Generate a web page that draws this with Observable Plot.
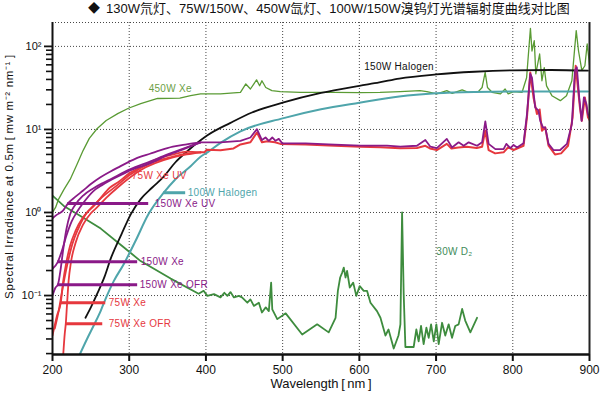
<!DOCTYPE html>
<html><head><meta charset="utf-8">
<script src="https://cdn.jsdelivr.net/npm/d3@7"></script>
<script src="https://cdn.jsdelivr.net/npm/@observablehq/plot@0.6"></script>
<style>
body{margin:0;background:#fff;}
#title{height:18px;width:600px;box-sizing:border-box;padding-left:88px;font-family:"Liberation Sans","Noto Sans CJK SC",sans-serif;font-size:13px;line-height:17px;color:#111;white-space:nowrap;}
#title .d{font-size:12px;margin-right:6px;}
</style></head><body>
<div id="title"></div>
<div id="chart"></div>
<script>
// ---- text ----
const titleMark = "◆";
const titleText = "130W氘灯、75W/150W、450W氙灯、100W/150W溴钨灯光谱辐射度曲线对比图";
const xLabel = "Wavelength\u2009[\u2009nm\u2009]";
const yLabel = "Spectral Irradiance at 0.5m\u2009[\u2009mw m⁻² nm⁻¹\u2009]";
const xTicks = [200, 300, 400, 500, 600, 700, 800, 900];
const yTicks = [0.1, 1, 10, 100];
const yTickLabels = ["10⁻¹", "10⁰", "10¹", "10²"];
const yMinorTicks = [0.02,0.03,0.04,0.05,0.06,0.07,0.08,0.09,0.2,0.3,0.4,0.5,0.6,0.7,0.8,0.9,2,3,4,5,6,7,8,9,20,30,40,50,60,70,80,90];
const xDomain = [200, 900];
const yDomain = [0.0195, 194];

// ---- series [wavelength nm, irradiance] ----
const halogen150 = [[243,0.054],[250,0.072],[258,0.104],[268,0.17],[276,0.28],[290,0.55],[302,0.95],[315,1.45],[330,2.0],[345,2.7],[360,4.0],[376,5.5],[393,7.4],[402,8.5],[432,12],[460,16],[500,21],[550,27.5],[600,33.5],[626,36.8],[652,41],[700,46],[750,49.5],[800,51.5],[850,52],[898,51]];
const halogen100 = [[235.5,0.0195],[245,0.03],[255,0.046],[263,0.066],[270,0.095],[280,0.15],[293,0.24],[308,0.45],[325,0.95],[345,1.73],[360,2.5],[380,3.6],[393,4.7],[402,5.3],[420,7.0],[445,9.5],[500,13.6],[550,17.5],[600,21],[652,25],[700,27.3],[750,28.3],[800,28.6],[898,28.6]];
const xe450 = [[200,1.0],[204,1.15],[208,1.45],[215,1.9],[223,2.5],[232,3.8],[240,5.6],[248,7.8],[258,10.2],[270,12.8],[285,15.5],[299,18],[315,20.5],[337,23.6],[366,23.8],[380,25.5],[393,26.8],[419,26.8],[445,27.9],[452,35.3],[458,30.7],[466,39.5],[470,33.6],[473,38.6],[478,32],[486,29.3],[497,28.5],[523,27.9],[566,27.9],[600,27.7],[627,27.9],[653,28.5],[679,29.3],[688,28.5],[701,26.8],[714,29.3],[721,27.2],[734,30],[742,27.9],[755,28.5],[760,32],[764,48.6],[767,32],[773,28],[784,26.8],[790,30.7],[794,26.8],[801,28.5],[812,27.9],[818,42],[823,165],[825,88],[828,117],[830,46.8],[835,81],[838,38.6],[841,55.6],[844,33.5],[851,25.5],[862,22.2],[870,25.5],[877,38.6],[882.7,155],[885.7,88],[890,51.4],[894,58.5],[897,107],[898.5,81],[900,60]];
const d2lamp30 = [[200,1.6],[214.7,1.2],[237,0.9],[262.9,0.64],[290,0.4],[314.9,0.26],[354,0.16],[390.5,0.105],[397,0.114],[401.8,0.099],[410.5,0.104],[419,0.095],[424,0.108],[428,0.099],[432,0.11],[436.5,0.095],[443,0.099],[447,0.095],[454,0.082],[458,0.09],[462.5,0.075],[469,0.082],[473,0.0625],[478,0.072],[482,0.065],[485,0.143],[486.5,0.068],[493,0.052],[504,0.061],[525.5,0.034],[545,0.045],[560,0.036],[569,0.054],[572,0.114],[575,0.165],[577.6,0.189],[579.7,0.217],[582,0.165],[584,0.198],[587.5,0.125],[592,0.143],[596,0.099],[600.5,0.13],[605.7,0.114],[610,0.114],[614.5,0.082],[623,0.065],[627.5,0.054],[634,0.033],[638,0.039],[644.8,0.023],[651,0.033],[653.5,0.045],[655.7,1.0],[657.8,0.104],[660,0.024],[670.8,0.024],[674.3,0.039],[677.3,0.028],[680.4,0.043],[683.8,0.026],[687.4,0.041],[690.4,0.031],[693.5,0.045],[697,0.028],[700.4,0.045],[703.4,0.026],[707.8,0.047],[712,0.033],[716.4,0.045],[720.8,0.031],[725,0.043],[729.4,0.045],[734,0.069],[738,0.05],[744.7,0.036],[753.4,0.054]];
// 150W Xe family, UV region
const xe150uv = [[200,0.85],[205,0.93],[214,1.06],[220,1.28],[230,1.55],[240,1.84],[250,2.2],[262,2.64],[275,3.1],[285,3.47],[305,4.3],[315,4.7],[327,5.1],[340,5.6],[357,6.2],[375,6.6],[393,6.97]];
const xe150 = [[200,0.21],[207,0.255],[212,0.34],[218,0.52],[225,0.78],[232,1.02],[240,1.3],[253,1.8],[265,2.15],[275,2.43],[290,2.85],[301,3.2],[327,3.9],[350,4.9],[375,6.0],[393,6.97]];
const xe150ofr = [[200,0.1],[204,0.125],[207,0.135],[210,0.19],[214,0.36],[218,0.62],[223,0.95],[230,1.25],[240,1.6],[253,1.95],[265,2.25],[275,2.5],[301,3.3],[327,4.1],[350,5.0],[375,6.1],[393,6.97]];
// 75W Xe family, UV region
const xe75uv = [[203,0.04],[208,0.065],[213,0.12],[219,0.23],[226,0.42],[234,0.65],[245,1.0],[254,1.2],[262,1.47],[275,2.0],[285,2.3],[301,3.0],[315,3.5],[336,4.4],[358,5.0],[375,5.4],[393,5.3]];
const xe75 = [[200,0.033],[206,0.058],[210.8,0.082],[214,0.15],[218,0.25],[223,0.4],[230,0.6],[240,0.88],[250,1.12],[262,1.45],[285,2.15],[301,2.85],[327,3.9],[357,4.7],[375,5.1],[393,5.3]];
const xe75ofr = [[214,0.0195],[216,0.035],[217.3,0.0456],[219,0.08],[221,0.15],[224,0.25],[230,0.43],[240,0.72],[250,0.98],[258,1.15],[270,1.5],[285,2.0],[314,3.2],[357,4.6],[375,5.0],[393,5.3]];
// visible bands (the 150W curves and the 75W curves coincide above ~390 nm)
const xe150vis = [[393,6.97],[419,6.97],[445,7.3],[458,8.0],[466.5,10.1],[473,7.45],[477.7,8.0],[482,7.3],[486.5,8.0],[490.7,7.3],[495,7.7],[499.5,6.8],[530,6.8],[560,6.6],[601,6.4],[636,6.4],[653.5,6.2],[675,6.36],[686,7.45],[692.6,6.2],[701,5.97],[714,7.7],[720.8,6.07],[729.4,7.0],[736,6.36],[742.5,7.0],[753.4,6.36],[760,7.0],[764.2,12.5],[768.5,6.7],[777.3,5.8],[788,5.8],[791.6,6.7],[796.8,5.97],[801,6.5],[805.5,6.07],[814,6.8],[818.5,15.3],[822.8,46.6],[825,42],[829.2,18.4],[833.5,16.8],[835.8,12.7],[839.3,10.6],[842.3,10.6],[846.6,6.7],[853,5.65],[861.8,5.65],[870.6,6.7],[877,11.6],[881,51],[883.5,56],[886.6,24.3],[889.7,12.7],[892.7,24.3],[896,20.2],[898,15.3],[900,14]];
const xe75vis = [[393,5.3],[398,5.3],[401,5.7],[419,5.6],[436,5.9],[445,6.6],[458,7.0],[466.5,9.2],[473,7.0],[480,7.2],[490,7.0],[497,6.7],[530,6.6],[560,6.4],[601,6.2],[627.5,6.1],[653,5.95],[675,5.97],[686,6.36],[692,5.9],[701,5.65],[714,6.7],[720,5.9],[729,6.07],[740,6.2],[753,5.97],[760,6.2],[764,9.66],[768.5,5.65],[777,5.15],[788,5.3],[794,6.1],[801,5.65],[814,6.36],[818.5,14],[822.8,48.5],[827,24.3],[831.5,15.3],[835,17.4],[838,9.66],[842.3,10.6],[846.6,6.36],[855,5.0],[863,5.15],[872,6.36],[878,14],[882,58.5],[887.5,18.4],[890,12.7],[894,24.3],[898,14],[900,13]];

// ---- annotations (data coordinates) ----
const labelNames = ["450W Xe","150W Halogen","75W Xe UV","100W Halogen","150W Xe UV","150W Xe","150W Xe OFR","75W Xe","75W Xe OFR","30W D₂"];
const labelX = [324, 605, 302, 374.9, 331.9, 313.7, 312.4, 272, 272, 699];
const labelY = [31, 56.9, 2.77, 1.73, 1.28, 0.255, 0.135, 0.0817, 0.0456, 0.339];
const leaderNames = ["100W Halogen","150W Xe UV","150W Xe","150W Xe OFR","75W Xe","75W Xe OFR"];
const leaderFrom = [345, 219.9, 206.9, 207, 210.8, 217.3];
const leaderTo = [373.6, 325.4, 311, 311, 269.4, 265.5];
const leaderY = [1.73, 1.28, 0.255, 0.135, 0.0817, 0.0456];

// ---- styles ----
const C = {purple:"#8a1a88", red:"#e6383e", green:"#5a9b34", d2:"#3e8c3e", black:"#111111", teal:"#4fa5ab"};
const labelColor = {"450W Xe":"#6b9e45","150W Halogen":"#111","75W Xe UV":"#e6383e","100W Halogen":"#4fa5ab","150W Xe UV":"#8a1a88","150W Xe":"#8a1a88","150W Xe OFR":"#8a1a88","75W Xe":"#e6383e","75W Xe OFR":"#e6383e","30W D₂":"#3e8c5a"};
const leaderColor = {"100W Halogen":C.teal,"150W Xe UV":C.purple,"150W Xe":C.purple,"150W Xe OFR":C.purple,"75W Xe":C.red,"75W Xe OFR":C.red};

document.getElementById("title").innerHTML = `<span class="d">${titleMark}</span>${titleText}`;

const labels = labelNames.map((n, i) => ({name: n, x: labelX[i], y: labelY[i]}));
const leaders = leaderNames.map((n, i) => ({name: n, x1: leaderFrom[i], x2: leaderTo[i], y: leaderY[i]}));
const X = d => d[0], Y = d => d[1];
const ln = (data, stroke, w, curve) => Plot.line(data, {x: X, y: Y, stroke, strokeWidth: w, curve: curve || "linear", clip: true});
const grid = {stroke: "#333", strokeOpacity: 0.9, strokeWidth: 1, strokeDasharray: "1,2"};

const chart = Plot.plot({
  width: 600, height: 378,
  marginLeft: 52, marginRight: 11, marginTop: 4, marginBottom: 42,
  style: {fontFamily: "'Liberation Sans', Arial, sans-serif", background: "#fff", color: "#111"},
  x: {domain: xDomain},
  y: {type: "log", domain: yDomain},
  marks: [
    Plot.gridX(xTicks.slice(1, -1), grid),
    Plot.gridY(yTicks, grid),
    Plot.ruleY([yDomain[1]], grid),
    ln(d2lamp30, C.d2, 1.8),
    ln(xe450, C.green, 1.3),
    ln(halogen100, C.teal, 2, "monotone-x"),
    ln(halogen150, C.black, 1.8, "monotone-x"),
    ln(xe75vis, C.red, 2),
    ln(xe150vis, C.purple, 1.8),
    ln(xe75uv, C.red, 1.8, "monotone-x"),
    ln(xe75, C.red, 1.8, "monotone-x"),
    ln(xe75ofr, C.red, 1.8, "monotone-x"),
    ln(xe150uv, C.purple, 1.8, "monotone-x"),
    ln(xe150, C.purple, 1.8, "monotone-x"),
    ln(xe150ofr, C.purple, 1.8, "monotone-x"),
    Plot.ruleY(leaders, {y: "y", x1: "x1", x2: "x2", stroke: d => leaderColor[d.name], strokeWidth: 3}),
    Plot.text(labels, {x: "x", y: "y", text: "name", fill: d => labelColor[d.name], textAnchor: "start", fontSize: 10, dx: 1}),
    Plot.ruleX([xDomain[0]], {stroke: "#111", strokeWidth: 2}),
    Plot.ruleX([xDomain[1]], {stroke: "#222", strokeWidth: 2}),
    Plot.ruleY([yDomain[0]], {stroke: "#111", strokeWidth: 2.5}),
    Plot.axisX(xTicks, {tickSize: 7, tickPadding: 4, strokeWidth: 2, fontSize: 12, label: null}),
    Plot.axisY(yTicks, {tickSize: 8, tickPadding: 3, strokeWidth: 1.8, fontSize: 11, tickFormat: d => yTickLabels[yTicks.indexOf(d)], label: null}),
    Plot.axisY(yMinorTicks, {tickSize: 6, strokeWidth: 1.6, tickFormat: () => "", label: null}),
    Plot.text([xLabel], {frameAnchor: "bottom", textAnchor: "middle", dy: 33, fontSize: 13, fill: "#111"}),
    Plot.text([yLabel], {frameAnchor: "left", textAnchor: "middle", rotate: -90, dx: -43, dy: -12, fontSize: 11.5, fill: "#111"})
  ]
});
// letter spacing for the wider-set texts
d3.select(chart).selectAll("text").filter(function() { return this.textContent === yLabel; }).style("letter-spacing", "0.65px");
d3.select(chart).selectAll("text").filter(function() { return labelNames.includes(this.textContent); }).style("letter-spacing", "0.3px");
document.getElementById("chart").appendChild(chart);
</script>
</body></html>
